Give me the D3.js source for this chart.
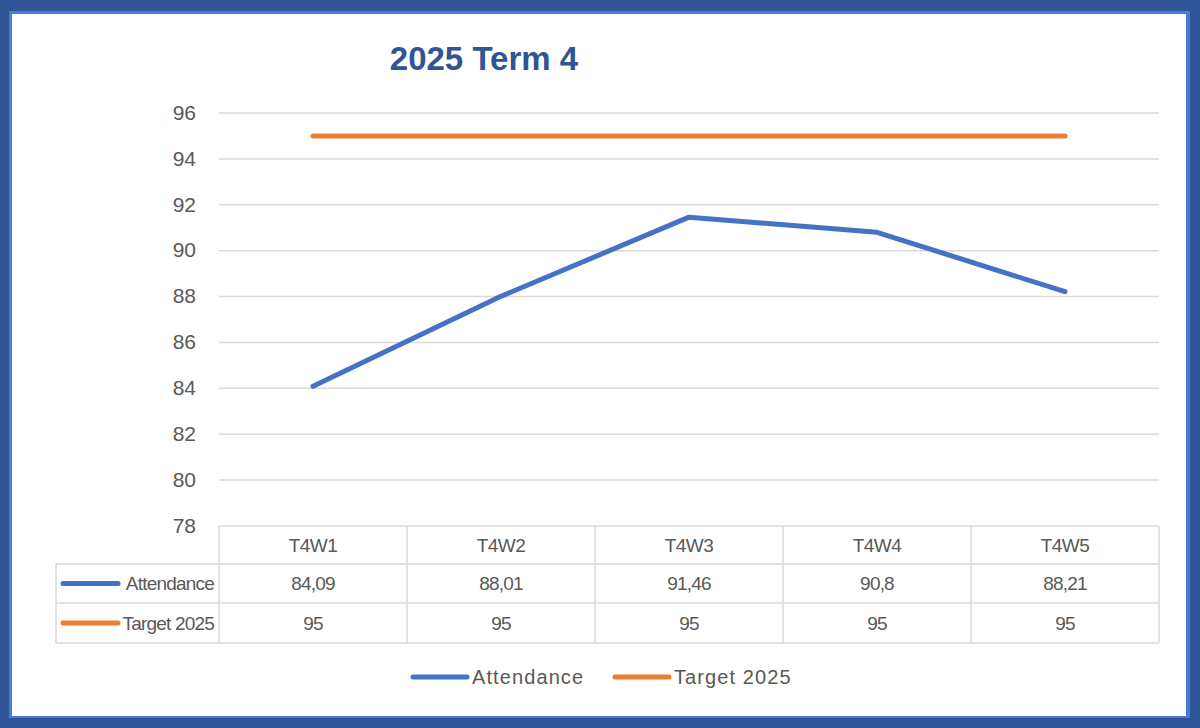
<!DOCTYPE html>
<html>
<head>
<meta charset="utf-8">
<script src="https://cdn.jsdelivr.net/npm/d3@7"></script>
<style>
  html, body { margin: 0; padding: 0; background: #fff; }
  svg { display: block; }
  text { font-family: "Liberation Sans", Arial, sans-serif; }
</style>
</head>
<body>
<svg id="chart" width="1200" height="728"></svg>
<script>
// ---- data ----
const title = "2025 Term 4";
const categories = ["T4W1", "T4W2", "T4W3", "T4W4", "T4W5"];
const attendance = [84.09, 88.01, 91.46, 90.8, 88.21];
const target2025 = [95, 95, 95, 95, 95];
const seriesNames = ["Attendance", "Target 2025"];
const yTicks = [78, 80, 82, 84, 86, 88, 90, 92, 94, 96];

// ---- styles ----
const colors = { "Attendance": "#4472C4", "Target 2025": "#ED7D31" };
const textColor = "#595959";
const gridColor = "#D9D9D9";

const series = [
  { name: seriesNames[0], values: attendance },
  { name: seriesNames[1], values: target2025 }
];

const svg = d3.select("#chart");

// frame
svg.append("rect").attr("width", 1200).attr("height", 728).attr("fill", "#2F5597");
svg.append("rect").attr("x", 9).attr("y", 11).attr("width", 1181).attr("height", 707).attr("fill", "#4A7BD0");
svg.append("rect").attr("x", 12).attr("y", 14).attr("width", 1174).attr("height", 702).attr("fill", "#ffffff");

// scales
const x = d3.scaleBand().domain(categories).range([219, 1159]).paddingInner(0).paddingOuter(0);
const y = d3.scaleLinear().domain([78, 96]).range([526, 113]);
const cx = d => x(d) + x.bandwidth() / 2;

// title
svg.append("text")
  .attr("x", 484).attr("y", 70)
  .attr("text-anchor", "middle")
  .attr("font-size", 33).attr("font-weight", "bold")
  .attr("fill", "#2F5597")
  .text(title);

// y axis (labels only) + gridlines
const yAxis = d3.axisLeft(y).tickValues(yTicks).tickSize(0).tickPadding(0).tickFormat(d3.format("d"));
const yg = svg.append("g").attr("transform", "translate(196,0)").call(yAxis);
yg.select(".domain").remove();
yg.selectAll("text")
  .attr("font-size", 21).attr("fill", textColor)
  .attr("font-family", "Liberation Sans, Arial, sans-serif")
  .attr("dy", "0.3em");

svg.append("g").selectAll("line")
  .data(yTicks.filter(t => t > 78))
  .join("line")
  .attr("x1", 219).attr("x2", 1159)
  .attr("y1", d => y(d)).attr("y2", d => y(d))
  .attr("stroke", gridColor).attr("stroke-width", 1.5);

// lines
const line = d3.line().x((d, i) => cx(categories[i])).y(d => y(d));
svg.append("g").selectAll("path")
  .data(series)
  .join("path")
  .attr("d", s => line(s.values))
  .attr("fill", "none")
  .attr("stroke", s => colors[s.name])
  .attr("stroke-width", 5)
  .attr("stroke-linecap", "round")
  .attr("stroke-linejoin", "round");

// data table
const rowTop = [526, 564, 603, 643];
const tableLeft = 56;
const tg = svg.append("g").attr("stroke", gridColor).attr("stroke-width", 1.5);
tg.append("line").attr("x1", 219).attr("x2", 1159).attr("y1", rowTop[0]).attr("y2", rowTop[0]);
[rowTop[1], rowTop[2], rowTop[3]].forEach(yy => {
  tg.append("line").attr("x1", tableLeft).attr("x2", 1159).attr("y1", yy).attr("y2", yy);
});
tg.append("line").attr("x1", tableLeft).attr("x2", tableLeft).attr("y1", rowTop[1]).attr("y2", rowTop[3]);
const colEdges = categories.map(c => x(c)).concat([x(categories[categories.length - 1]) + x.bandwidth()]);
colEdges.forEach(xx => {
  tg.append("line").attr("x1", xx).attr("x2", xx).attr("y1", rowTop[0]).attr("y2", rowTop[3]);
});

const fmt = v => String(v).replace(".", ",");
const cellFont = 19;
// header
svg.append("g").selectAll("text")
  .data(categories)
  .join("text")
  .attr("x", d => cx(d)).attr("y", (rowTop[0] + rowTop[1]) / 2)
  .attr("dy", "0.35em")
  .attr("text-anchor", "middle")
  .attr("font-size", cellFont).attr("fill", textColor)
  .attr("letter-spacing", -0.6)
  .text(d => d);

series.forEach((s, si) => {
  const cy = (rowTop[si + 1] + rowTop[si + 2]) / 2;
  const g = svg.append("g");
  g.selectAll("text")
    .data(s.values)
    .join("text")
    .attr("x", (d, i) => cx(categories[i])).attr("y", cy)
    .attr("dy", "0.35em")
    .attr("text-anchor", "middle")
    .attr("font-size", cellFont).attr("fill", textColor)
    .attr("letter-spacing", -0.8)
    .text(d => fmt(d));
  g.append("line")
    .attr("x1", 63).attr("x2", 118).attr("y1", cy).attr("y2", cy)
    .attr("stroke", colors[s.name]).attr("stroke-width", 5).attr("stroke-linecap", "round");
  g.append("text")
    .attr("x", 214).attr("y", cy).attr("dy", "0.35em")
    .attr("text-anchor", "end")
    .attr("font-size", cellFont).attr("fill", textColor)
    .attr("letter-spacing", -0.8)
    .text(s.name);
});

// legend
const legendX = [413, 615];
const lg = svg.append("g");
series.forEach((s, i) => {
  const gx = legendX[i];
  lg.append("line")
    .attr("x1", gx).attr("x2", gx + 54).attr("y1", 677).attr("y2", 677)
    .attr("stroke", colors[s.name]).attr("stroke-width", 5).attr("stroke-linecap", "round");
  lg.append("text")
    .attr("x", gx + 59).attr("y", 677).attr("dy", "0.35em")
    .attr("font-size", 20).attr("fill", textColor)
    .attr("letter-spacing", 1.1)
    .text(s.name);
});
</script>
</body>
</html>
